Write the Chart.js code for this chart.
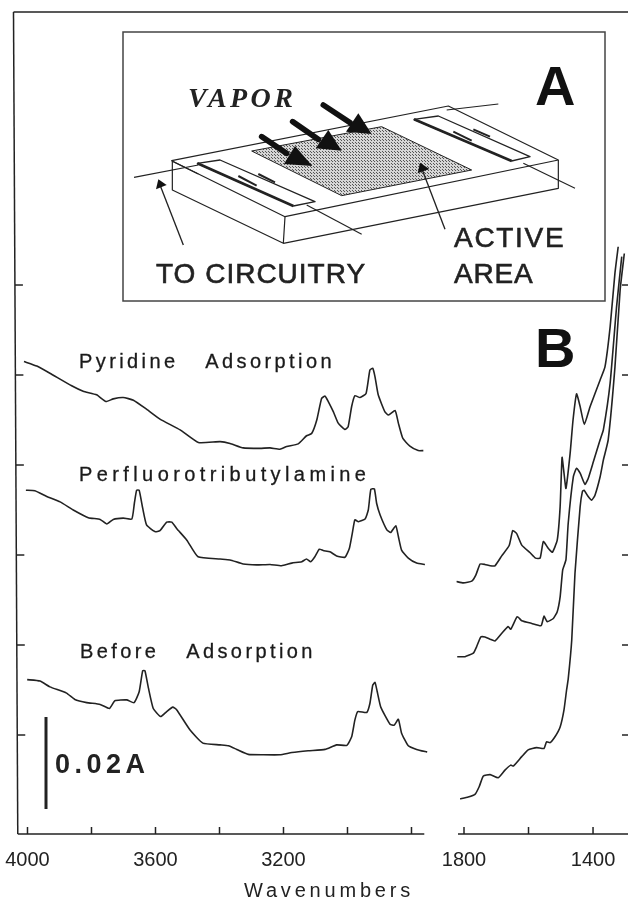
<!DOCTYPE html>
<html><head><meta charset="utf-8">
<style>html,body{margin:0;padding:0;background:#fff}canvas{display:block;filter:blur(0.35px)}</style>
<script src="https://cdn.jsdelivr.net/npm/chart.js@4/dist/chart.umd.js"></script>
</head><body><canvas id="c" width="628" height="901"></canvas>
<script>
// Absorbance is expressed in milli-absorbance units (0.02 A = 20 mA between y ticks)
const pyridineHighWn=[4011,3971,3930,3862,3826,3784,3755,3732,3701,3669,3628,3586,3523,3466,3398,3367,3326,3273,3242,3211,3190,3154,3128,3112,3096,3081,3070,3060,3044,3029,3008,2998,2987,2977,2961,2942,2930,2921,2914,2904,2883,2872,2851,2841,2827,2805,2779,2763];
const pyridineHighA=[103,102,100.4,97.6,96.4,95.6,94.1,94.7,95,94.4,92.4,90.2,87.8,85,85.2,84.8,83.8,83.7,83.8,83.5,84.1,84.7,86.5,87,90,94.8,95.3,94.1,91.8,89.3,87.9,88.5,93,95.4,95,95.9,101.1,101.5,99.6,95.6,91.8,91.1,92.1,89.3,85.9,84.2,83.2,83.2];
const pfHighWn=[4005,3977,3940,3898,3857,3810,3773,3752,3732,3701,3674,3666,3659,3651,3640,3628,3602,3586,3565,3549,3534,3502,3467,3398,3367,3326,3284,3242,3206,3174,3143,3128,3115,3102,3088,3076,3055,3034,3008,2994,2985,2977,2966,2945,2935,2927,2916,2909,2898,2877,2865,2849,2841,2831,2810,2784,2758];
const pfHighA=[74.4,74.3,73,71.8,70,68.3,67.9,66.9,67.9,68.2,68,71.5,74.4,74.4,70.4,66.7,65.2,65.4,67.3,67.3,65.9,63.3,59.6,59.1,58.9,58,57.8,57.9,57.6,58.2,58.5,59.1,58.5,59.6,61.3,61,60.7,59.8,59.5,61.5,64.8,67.8,67.4,68,70,74.6,74.7,71.5,68.9,65.6,65,66.5,64.1,61.1,59.3,58.2,57.9];
const beforeHighWn=[4001,3961,3930,3878,3852,3815,3773,3744,3727,3690,3667,3651,3640,3633,3622,3607,3584,3565,3546,3534,3492,3452,3398,3372,3346,3310,3263,3211,3174,3123,3070,3034,3002,2987,2977,2968,2940,2930,2921,2914,2907,2896,2867,2854,2841,2831,2810,2784,2751];
const beforeHighA=[32.3,32,30.7,29.3,27.9,27.2,26.8,25.9,27.6,27.8,27.2,29.6,34.3,34.3,30.4,25.9,24.1,25.2,26.2,25.6,21.1,18.2,17.8,17.6,16.8,15.7,15.6,15.6,16.1,16.5,16.8,17.8,17.7,19.6,23.3,25.2,25,27,31.1,31.7,29.6,26.2,22.4,22.2,23.5,20.4,17.6,16.8,16.2];
const pyridineLowWn=[1823,1802,1776,1763,1750,1735,1719,1704,1683,1660,1649,1637,1621,1595,1578,1564,1554,1539,1526,1511,1502,1496,1490,1484,1471,1462,1451,1440,1427,1409,1378,1363,1347,1332,1322];
const pyridineLowA=[54.1,53.8,54.2,55.6,58,57.9,57.6,57.6,59.8,62.1,65.4,64.8,62.2,60.5,59.3,59.3,63,61.5,60.6,63.3,70.7,81.7,78.2,74.8,82.6,90,95.8,93,89,93,98.9,101.8,110.7,122.7,128.5];
const pfLowWn=[1821,1797,1771,1761,1748,1735,1719,1704,1683,1663,1655,1635,1621,1590,1561,1552,1542,1523,1511,1502,1494,1484,1477,1461,1451,1440,1425,1415,1399,1378,1368,1347,1327,1311];
const pfLowA=[37.4,37.4,38.2,39.6,41.8,41.8,41.3,40.9,42.6,44.1,43.5,46.3,45.4,44.8,44.3,46.4,45.2,45.9,47.4,50.7,56.7,58.9,67,77.4,79.3,78.2,75.7,77,80.7,85.6,87.8,98.2,115.2,126.3];
const beforeLowWn=[1812,1787,1766,1753,1740,1719,1694,1673,1655,1647,1621,1601,1575,1552,1544,1533,1518,1502,1490,1482,1477,1466,1456,1440,1433,1428,1415,1404,1394,1378,1368,1353,1332,1316,1303];
const beforeLowA=[5.8,6.2,6.8,8.5,10.9,11.2,10.5,12.2,13.3,13.1,15.2,16.7,17.2,17,18.5,18.3,19.6,21.8,25.6,30,32.4,41.1,55.9,70.7,74.1,74.4,73,72.2,73.3,77.4,81.1,85.6,101.8,118.9,127];
const highLabels=[4000,3600,3200];
const lowLabels=[1800,1400];
const yTicks=[20,40,60,80,100,120];
const axisTitle="Wavenumbers";

const INK='#222';
const pts=(w,a)=>w.map((x,i)=>({x,y:a[i]}));
const mk=(w,a,id,name)=>({label:name,data:pts(w,a),xAxisID:id,yAxisID:'y',borderColor:INK,borderWidth:1.6,pointRadius:0,tension:0.15,fill:false});

function txt(c,s,x,y,font,sp,col,stroke){c.font=font;c.letterSpacing=sp+'px';c.fillStyle=col||INK;c.textAlign='left';c.textBaseline='alphabetic';c.fillText(s,x,y);
  if(stroke){c.lineWidth=stroke;c.strokeStyle=col||INK;c.strokeText(s,x,y);}c.letterSpacing='0px';}
function path(c,p,close){c.beginPath();p.forEach((q,i)=>i?c.lineTo(q[0],q[1]):c.moveTo(q[0],q[1]));if(close)c.closePath();}

function drawInset(c){
  c.save();
  c.strokeStyle='#444';c.lineWidth=1.5;c.strokeRect(123,32,482,269);
  c.translate(110,20);c.scale(1/3,1/3);
  c.strokeStyle=INK;c.lineWidth=3.6;c.lineJoin='round';
  path(c,[[185,422],[1015,258],[1345,420],[525,590]],true);c.stroke();
  path(c,[[187,422],[187,510],[520,670],[525,590]]);c.stroke();
  path(c,[[520,670],[1345,505],[1345,420]]);c.stroke();
  [[[72,472],[265,435]],[[1010,270],[1165,252]],[[1240,430],[1395,505]],[[590,555],[755,643]],[[190,425],[265,462]]].forEach(l=>{path(c,l);c.stroke();});
  // active area with stipple
  const pc=document.createElement('canvas');pc.width=pc.height=9;const pk=pc.getContext('2d');
  pk.fillStyle='#d6d6d6';pk.fillRect(0,0,9,9);pk.fillStyle='#555';pk.fillRect(0,0,4,4);pk.fillRect(5,5,4,4);
  c.fillStyle=c.createPattern(pc,'repeat');
  path(c,[[425,393],[815,320],[1085,450],[695,527]],true);c.fill();
  c.lineWidth=3;c.stroke();
  // pads
  [[[262,430],[330,420],[615,545],[550,558]],[[912,298],[985,288],[1260,410],[1205,423]]].forEach(p=>{
    c.fillStyle='#fff';path(c,p,true);c.fill();c.lineWidth=4;c.stroke();
    c.lineWidth=8;path(c,[p[0],p[3]]);c.stroke();
  });
  c.lineWidth=6;
  [[[385,468],[440,497]],[[445,462],[495,487]],[[1030,335],[1085,362]],[[1090,328],[1140,350]]].forEach(l=>{path(c,l);c.stroke();});
  // vapor arrows
  c.fillStyle='#111';c.strokeStyle='#111';
  [[[455,350],[530,400],[607,438],[522,432],[555,378]],[[548,305],[625,358],[695,392],[617,385],[655,330]],[[640,255],[720,308],[785,342],[708,335],[745,280]]].forEach(a=>{
    c.lineWidth=17;c.lineCap='round';path(c,[a[0],a[1]]);c.stroke();c.lineCap='butt';
    path(c,[a[2],a[3],a[4]],true);c.fill();});
  // thin pointers
  c.strokeStyle=INK;c.lineWidth=4;
  path(c,[[220,675],[150,495]]);c.stroke();
  path(c,[[1005,628],[935,445]]);c.stroke();
  c.fillStyle='#111';
  path(c,[[145,478],[138,508],[170,495]],true);c.fill();
  path(c,[[930,428],[923,460],[958,447]],true);c.fill();
  c.restore();
  txt(c,'VAPOR',188,107,'italic bold 28px "Liberation Serif"',3.4,'#222');
  txt(c,'A',535,105,'bold 56px "Liberation Sans"',0,'#111');
  txt(c,'TO CIRCUITRY',156,283,'28px "Liberation Sans"',1,'#222',0.6);
  txt(c,'ACTIVE',454,247,'28px "Liberation Sans"',1.7,'#222',0.6);
  txt(c,'AREA',454,283,'28px "Liberation Sans"',0.8,'#222',0.6);
}

const frame={id:'frame',
  afterLayout(ch){
    const s=ch.scales.x1;
    // x2 shares the label row of x1: open its label clip to the same depth
    ch.scales.x2.bottom=s.bottom;
    if(!s._ls){s._ls=1;const o=s.drawTitle;s.drawTitle=function(){const k=ch.ctx;k.save();k.translate(6.5,0);k.letterSpacing='3.8px';o.call(this);k.letterSpacing='0px';k.restore();};}},
  afterDraw(ch){
    const c=ch.ctx,{x1,x2,y}=ch.scales;
    c.save();c.strokeStyle=INK;c.lineWidth=1.5;
    // frame, tilted like the scan
    const lx=p=>13.5+(p-12)*0.0052;
    path(c,[[13.5,12],[628,12]]);c.stroke();
    path(c,[[lx(12),12],[lx(834),834]]);c.stroke();
    path(c,[[lx(834),834],[x1.getPixelForValue(2760),834]]);c.stroke();
    path(c,[[458,834],[628,834]]);c.stroke();
    y.ticks.forEach(t=>{const p=y.getPixelForValue(t.value);
      path(c,[[lx(p),p],[lx(p)+8,p]]);c.stroke();
      path(c,[[622,p],[628,p]]);c.stroke();});
    [x1,x2].forEach(s=>s.ticks.forEach(t=>{const p=s.getPixelForValue(t.value);path(c,[[p,834],[p,827]]);c.stroke();}));
    c.restore();
    drawInset(c);
    txt(c,'Pyridine   Adsorption',79,367.5,'20px "Liberation Sans"',3.4,'#1a1a1a',0.3);
    txt(c,'Perfluorotributylamine',79,481,'20px "Liberation Sans"',4.4,'#1a1a1a',0.3);
    txt(c,'Before   Adsorption',80,658,'20px "Liberation Sans"',3.4,'#1a1a1a',0.3);
    txt(c,'0.02A',55,773,'bold 27px "Liberation Sans"',4.5,'#222');
    txt(c,'B',535,367,'bold 56px "Liberation Sans"',0,'#111');
    c.save();c.strokeStyle='#222';c.lineWidth=3;path(c,[[46,717],[46,809]]);c.stroke();c.restore();
  }};

const noPad=s=>{s.paddingLeft=s.paddingRight=s.paddingTop=s.paddingBottom=0;};
const xScale=(min,max,low,high,labels,h,title)=>({type:'linear',reverse:true,min,max,position:'bottom',weight:h?0:-1,
  grid:{display:false,drawTicks:false},border:{display:false},
  ticks:{stepSize:200,includeBounds:false,autoSkip:false,maxRotation:0,padding:14,color:'#222',font:{family:'"Liberation Sans"',size:20},
    callback:v=>labels.includes(v)?String(v):''},
  afterBuildTicks(s){s.ticks=s.ticks.filter(t=>t.value>=low&&t.value<=high);},
  afterFit(s){s.height=h;noPad(s);},
  title:title?{display:true,text:title,color:'#222',padding:0,font:{family:'"Liberation Sans"',size:20,lineHeight:1}}:{display:false}
});

new Chart(document.getElementById('c'),{
  type:'line',
  data:{datasets:[
    mk(pyridineHighWn,pyridineHighA,'x1','Pyridine Adsorption'),
    mk(pfHighWn,pfHighA,'x1','Perfluorotributylamine'),
    mk(beforeHighWn,beforeHighA,'x1','Before Adsorption'),
    mk(pyridineLowWn,pyridineLowA,'x2','Pyridine Adsorption (low)'),
    mk(pfLowWn,pfLowA,'x2','Perfluorotributylamine (low)'),
    mk(beforeLowWn,beforeLowA,'x2','Before Adsorption (low)')
  ]},
  options:{responsive:false,animation:false,
    layout:{autoPadding:false,padding:{left:17,top:12,right:0,bottom:0}},
    plugins:{legend:{display:false},tooltip:{enabled:false},title:{display:false}},
    scales:{
      x1:xScale(2123.4,4032.8,2800,4000,highLabels,67,axisTitle),
      x2:xScale(1291.6,3185.7,1400,1800,lowLabels,0,null),
      y:{type:'linear',min:-2,max:180.67,position:'left',
        grid:{display:false,drawTicks:false},border:{display:false},
        ticks:{display:false,stepSize:20,includeBounds:false},
        afterBuildTicks(s){s.ticks=s.ticks.filter(t=>yTicks.includes(t.value));},
        afterFit(s){s.width=0;noPad(s);}}
    }
  },
  plugins:[frame]
});
</script></body></html>
